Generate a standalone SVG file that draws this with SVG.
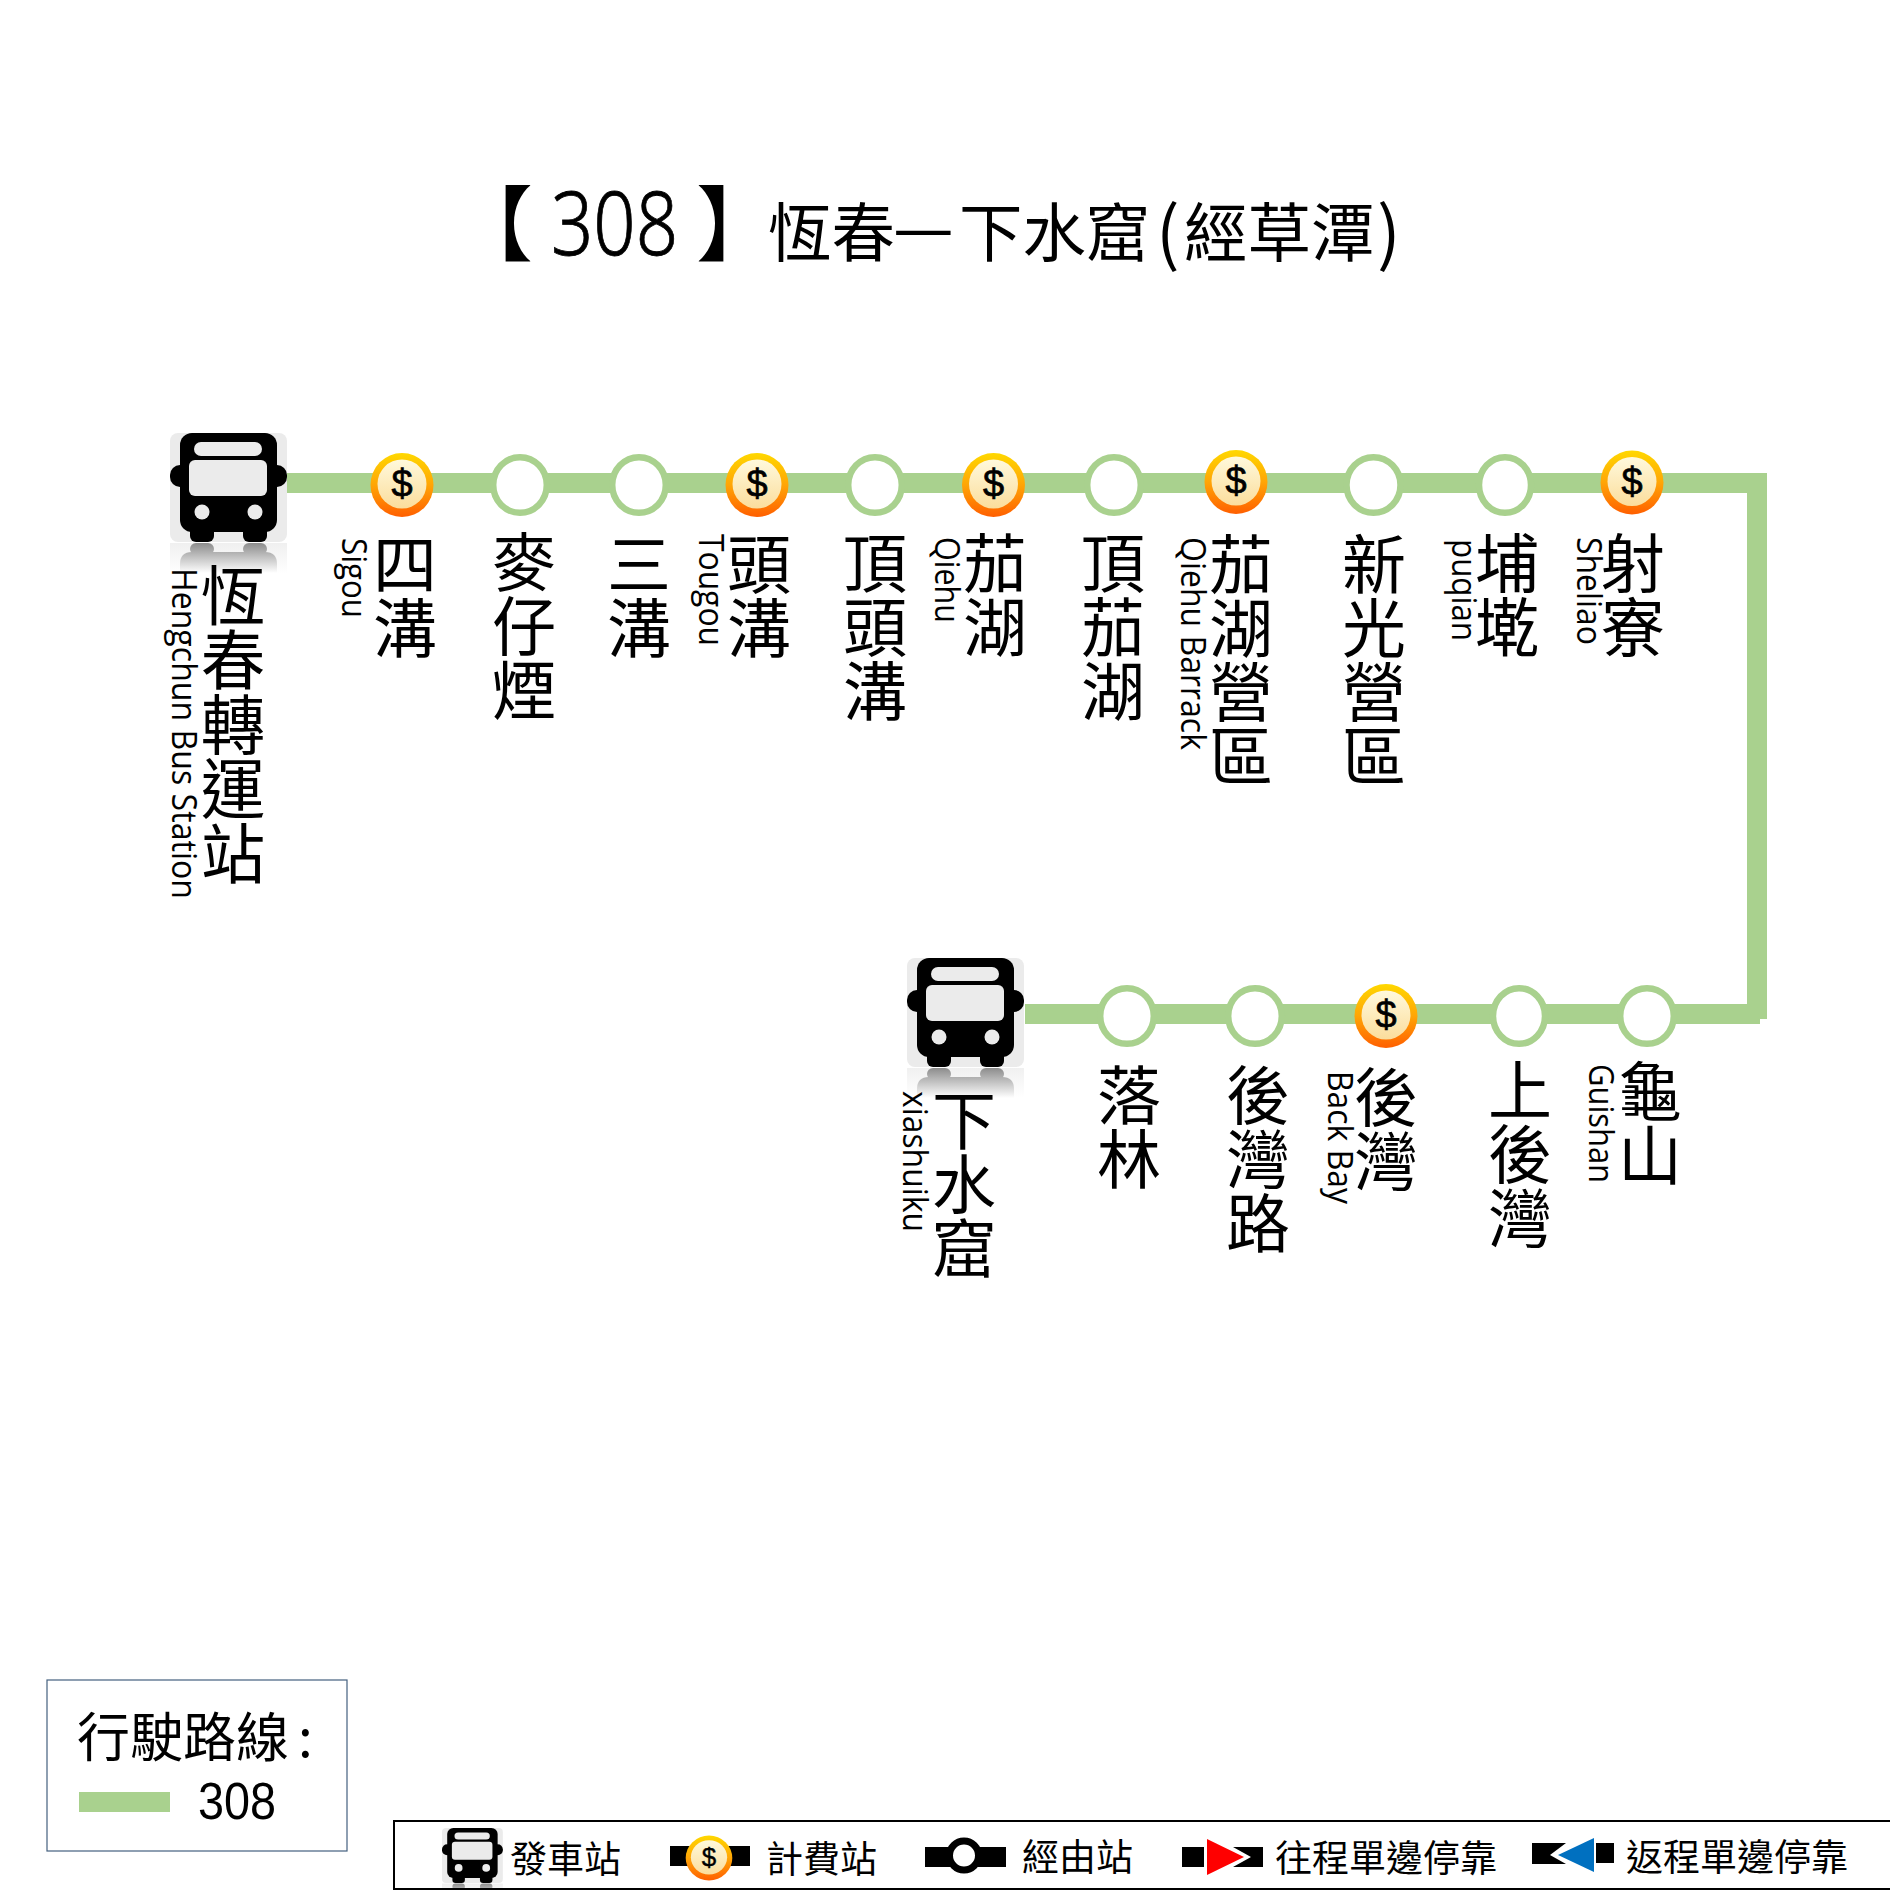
<svg xmlns="http://www.w3.org/2000/svg" xmlns:xlink="http://www.w3.org/1999/xlink" width="1890" height="1890" viewBox="0 0 1890 1890">
<style>
text{font-family:"Noto Sans CJK TC","Noto Sans",sans-serif;fill:#000}
.zh{font-size:64px;writing-mode:vertical-rl;text-orientation:upright}
.en{font-family:"Open Sans","Noto Sans",sans-serif;font-size:35px}
.usd{font-family:"Liberation Sans",sans-serif;font-size:38px;text-anchor:middle;stroke:#000;stroke-width:.7}
.lg{font-size:37px}
.thin{font-family:"Noto Sans",sans-serif;font-weight:300;stroke:#000;stroke-width:.8}
.line{fill:#a9d18e}
.stop{fill:#fff;stroke:#a9d18e;stroke-width:6.500}
</style>
<defs>
<linearGradient id="coinOuter" x1="0" y1="0" x2="0" y2="1"><stop offset="0" stop-color="#ffd800"/><stop offset=".5" stop-color="#ffa506"/><stop offset="1" stop-color="#ff5f00"/></linearGradient>
<linearGradient id="coinInner" x1="0" y1="0" x2="0" y2="1"><stop offset="0" stop-color="#fff9dc"/><stop offset="1" stop-color="#fbdd9c"/></linearGradient>
<linearGradient id="refA" gradientUnits="userSpaceOnUse" x1="0" y1="110" x2="0" y2="140"><stop offset="0" stop-color="#8c8c8c"/><stop offset=".45" stop-color="#c0c0c0"/><stop offset="1" stop-color="#fff"/></linearGradient>
<linearGradient id="refB" gradientUnits="userSpaceOnUse" x1="0" y1="110" x2="0" y2="140"><stop offset="0" stop-color="#f0f0f0"/><stop offset="1" stop-color="#fff"/></linearGradient>
<g id="coin">
<ellipse rx="31.500" ry="32" fill="url(#coinOuter)"/>
<ellipse cy="-1" rx="24.500" ry="24.500" fill="url(#coinInner)"/>
</g>
<g id="bus">
<rect y="110" width="117" height="30" fill="url(#refB)"/>
<path d="M10 140V131Q10 119 22 119H95Q107 119 107 131V140Z" fill="url(#refA)"/>
<rect x="20" y="110" width="24" height="12" rx="6" fill="url(#refA)"/>
<rect x="73" y="110" width="24" height="12" rx="6" fill="url(#refA)"/>
<rect width="117" height="109" rx="8" fill="#ebebeb"/>
<rect x="0" y="32" width="20" height="22" rx="10"/>
<rect x="97" y="32" width="20" height="22" rx="10"/>
<rect x="20" y="85" width="24" height="24" rx="6"/>
<rect x="73" y="85" width="24" height="24" rx="6"/>
<rect x="10" width="97" height="99" rx="12"/>
<rect x="24" y="9" width="68" height="14" rx="7" fill="#ebebeb"/>
<rect x="19" y="27" width="78" height="36" rx="6" fill="#ebebeb"/>
<circle cx="32" cy="79" r="7.500" fill="#ebebeb"/>
<circle cx="85" cy="79" r="7.500" fill="#ebebeb"/>
</g>
<clipPath id="lgClip"><rect x="395" y="1822" width="200" height="66"/></clipPath>
</defs>

<g id="connectors">
<rect class="line" x="287" y="473" width="1480" height="20"/>
<rect class="line" x="1747" y="473" width="20" height="546"/>
<rect class="line" x="1025" y="1004" width="735" height="20"/>
</g>

<g id="title">
<text font-size="63.500" y="256"><tspan x="451" y="254" font-size="82">【</tspan><tspan class="thin" x="551" y="255" font-size="88" textLength="127" lengthAdjust="spacingAndGlyphs">308</tspan><tspan x="696" y="254" font-size="82">】</tspan><tspan x="768" y="256">恆春</tspan><tspan x="893" y="252" font-size="68">—</tspan><tspan x="959" y="256">下水窟</tspan><tspan x="1156" y="258" font-size="70">(</tspan><tspan x="1184" y="256">經草潭</tspan><tspan x="1377" y="258" font-size="70">)</tspan></text>
</g>

<g id="stop-hengchun"><use xlink:href="#bus" href="#bus" transform="translate(170 433)"/>
<text class="zh" x="233" y="563" style="font-size:64.500px">恆春轉運站</text><text class="en" transform="translate(172 568) rotate(90)" textLength="331" lengthAdjust="spacingAndGlyphs">Hengchun Bus Station</text></g>

<g id="stop-sigou"><use xlink:href="#coin" href="#coin" x="402" y="485"/><text class="usd" x="402" y="497">$</text>
<text class="zh" x="405" y="532">四溝</text><text class="en" transform="translate(342 538) rotate(90)" textLength="80" lengthAdjust="spacingAndGlyphs">Sigou</text></g>

<g id="stop-maizaiyan"><ellipse class="stop" cx="520" cy="485" rx="26.800" ry="27.800"/>
<text class="zh" x="524" y="530">麥仔煙</text></g>

<g id="stop-sangou"><ellipse class="stop" cx="639" cy="485" rx="26.800" ry="27.800"/>
<text class="zh" x="639" y="532">三溝</text></g>

<g id="stop-tougou"><use xlink:href="#coin" href="#coin" x="757" y="485"/><text class="usd" x="757" y="497">$</text>
<text class="zh" x="759" y="532">頭溝</text><text class="en" transform="translate(699 534) rotate(90)" textLength="112" lengthAdjust="spacingAndGlyphs">Tougou</text></g>

<g id="stop-dingtougou"><ellipse class="stop" cx="875" cy="485" rx="26.800" ry="27.800"/>
<text class="zh" x="875" y="531">頂頭溝</text></g>

<g id="stop-qiehu"><use xlink:href="#coin" href="#coin" x="993.500" y="485"/><text class="usd" x="993.500" y="497">$</text>
<text class="zh" x="995" y="531">茄湖</text><text class="en" transform="translate(935 537) rotate(90)" textLength="86" lengthAdjust="spacingAndGlyphs">Qiehu</text></g>

<g id="stop-dingqiehu"><ellipse class="stop" cx="1114" cy="485" rx="26.800" ry="27.800"/>
<text class="zh" x="1113" y="531">頂茄湖</text></g>

<g id="stop-qiehu-barrack"><use xlink:href="#coin" href="#coin" x="1236" y="482"/><text class="usd" x="1236" y="494">$</text>
<text class="zh" x="1241" y="532">茄湖營區</text><text class="en" transform="translate(1180.500 537) rotate(90)" textLength="213" lengthAdjust="spacingAndGlyphs">Qiehu Barrack</text></g>

<g id="stop-xinguang"><ellipse class="stop" cx="1373.500" cy="485" rx="27" ry="27.800"/>
<text class="zh" x="1374" y="532">新光營區</text></g>

<g id="stop-puqian"><ellipse class="stop" cx="1505" cy="485" rx="26" ry="27.800"/>
<text class="zh" x="1507" y="531">埔墘</text><text class="en" transform="translate(1452 539) rotate(90)" textLength="102" lengthAdjust="spacingAndGlyphs">puqian</text></g>

<g id="stop-sheliao"><use xlink:href="#coin" href="#coin" x="1632" y="482.500"/><text class="usd" x="1632" y="494.500">$</text>
<text class="zh" x="1633" y="531">射寮</text><text class="en" transform="translate(1577 537) rotate(90)" textLength="108" lengthAdjust="spacingAndGlyphs">Sheliao</text></g>

<g id="stop-guishan"><ellipse class="stop" cx="1647" cy="1016" rx="26.800" ry="27.800"/>
<text class="zh" x="1650" y="1059">龜山</text><text class="en" transform="translate(1589 1064) rotate(90)" textLength="119" lengthAdjust="spacingAndGlyphs">Guishan</text></g>

<g id="stop-shanghouwan"><ellipse class="stop" cx="1519" cy="1016" rx="26" ry="27.800"/>
<text class="zh" x="1520" y="1058">上後灣</text></g>

<g id="stop-houwan"><use xlink:href="#coin" href="#coin" x="1386" y="1016"/><text class="usd" x="1386" y="1028">$</text>
<text class="zh" x="1386" y="1065">後灣</text><text class="en" transform="translate(1328 1071) rotate(90)" textLength="133" lengthAdjust="spacingAndGlyphs">Back Bay</text></g>

<g id="stop-houwanlu"><ellipse class="stop" cx="1255" cy="1016" rx="26.800" ry="27.800"/>
<text class="zh" x="1258" y="1063">後灣路</text></g>

<g id="stop-luolin"><ellipse class="stop" cx="1127" cy="1016" rx="26.800" ry="27.800"/>
<text class="zh" x="1129" y="1063">落林</text></g>

<g id="stop-xiashuiku"><use xlink:href="#bus" href="#bus" transform="translate(907 958)"/>
<text class="zh" x="964" y="1088">下水窟</text><text class="en" transform="translate(903 1091) rotate(90)" textLength="141" lengthAdjust="spacingAndGlyphs">xiashuiku</text></g>

<g id="legend-route">
<rect x="47" y="1680" width="300" height="171" fill="#fff" stroke="#44607f" stroke-width="1.200"/>
<rect class="line" x="79" y="1792" width="91" height="20"/>
<text font-size="53"><tspan x="77" y="1757">行駛路線</tspan><tspan x="298" y="1757">:</tspan></text>
<text x="198" y="1819" font-size="52" style="font-family:'Liberation Sans',sans-serif" textLength="78" lengthAdjust="spacingAndGlyphs">308</text>
</g>

<g id="legend-symbols">
<rect x="394" y="1821" width="1500" height="68" fill="#fff" stroke="#000" stroke-width="2"/>
<g clip-path="url(#lgClip)"><use xlink:href="#bus" href="#bus" transform="translate(442 1828) scale(.52 .505)"/></g>
<text class="lg" x="510" y="1873">發車站</text>
<rect x="670" y="1846" width="80" height="20"/>
<use xlink:href="#coin" href="#coin" transform="translate(709 1858) scale(.74 .7)"/>
<text class="usd" x="709" y="1866" style="font-size:26px;stroke-width:.4">$</text>
<text class="lg" x="766" y="1873">計費站</text>
<rect x="925" y="1847" width="81" height="20"/>
<circle cx="964" cy="1855.500" r="14.500" fill="#fff" stroke="#000" stroke-width="7"/>
<text class="lg" x="1022" y="1871">經由站</text>
<rect x="1182" y="1847" width="22" height="20"/>
<polygon points="1207,1839 1244,1857 1207,1875" fill="#f00"/>
<polygon points="1233,1847 1263,1847 1263,1867 1233,1867 1251,1857"/>
<text class="lg" x="1275" y="1872">往程單邊停靠</text>
<polygon points="1532,1843 1566,1843 1550,1855 1566,1864 1532,1864"/>
<polygon points="1594,1838 1558,1855 1594,1872" fill="#0070c0"/>
<rect x="1596" y="1843" width="18" height="20"/>
<text class="lg" x="1626" y="1871">返程單邊停靠</text>
</g>
</svg>
